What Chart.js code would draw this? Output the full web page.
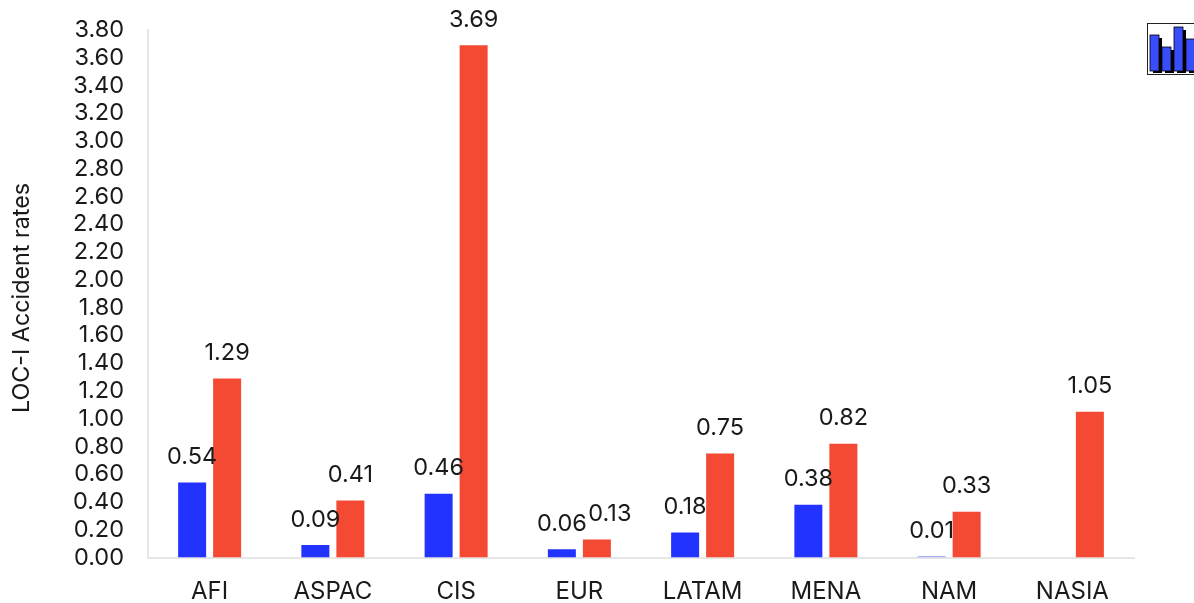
<!DOCTYPE html>
<html>
<head>
<meta charset="utf-8">
<title>LOC-I Accident rates</title>
<script src="https://cdn.jsdelivr.net/npm/chart.js@4"></script>
<style>
  html, body { margin: 0; padding: 0; background: #fff; overflow: hidden; }
  #wrap { position: relative; width: 1194px; height: 603px; }
  #icono { position: absolute; left: 1147px; top: 23px; }
</style>
</head>
<body>
<div id="wrap">
  <canvas id="grafico" width="1194" height="603"></canvas>
  <svg id="icono" width="47" height="53">
    <rect x="0.5" y="0.5" width="60" height="51" fill="#fff" stroke="#222"/>
    <rect x="6" y="15" width="9" height="35" fill="#000"/>
    <rect x="18" y="27" width="9" height="23" fill="#000"/>
    <rect x="30" y="7" width="9" height="43" fill="#000"/>
    <rect x="42" y="19" width="9" height="31" fill="#000"/>
    <rect x="3" y="12" width="9" height="36" fill="#3a4dfb" stroke="#000" stroke-width="0.8"/>
    <rect x="15" y="24" width="9" height="24" fill="#3a4dfb" stroke="#000" stroke-width="0.8"/>
    <rect x="27" y="4" width="9" height="44" fill="#3a4dfb" stroke="#000" stroke-width="0.8"/>
    <rect x="39" y="16" width="9" height="32" fill="#3a4dfb" stroke="#000" stroke-width="0.8"/>
  </svg>
</div>
<script>
const regiones = ['AFI', 'ASPAC', 'CIS', 'EUR', 'LATAM', 'MENA', 'NAM', 'NASIA'];
const serieAzul = [0.54, 0.09, 0.46, 0.06, 0.18, 0.38, 0.01, null];
const serieRoja = [1.29, 0.41, 3.69, 0.13, 0.75, 0.82, 0.33, 1.05];
const tituloEjeY = 'LOC-I Accident rates';

const FUENTE = 'Inter, "Noto Sans", sans-serif';
const TEXTO = '#1a1a1a';

// etiquetas de valor encima de cada barra y titulo del eje
const etiquetas = {
  id: 'etiquetas',
  afterDatasetsDraw(chart) {
    const ctx = chart.ctx;
    const azules = chart.getDatasetMeta(0).data;
    ctx.save();
    ctx.font = '23.5px ' + FUENTE;
    ctx.fillStyle = TEXTO;
    ctx.textAlign = 'center';
    ctx.textBaseline = 'middle';
    chart.data.datasets.forEach((ds, i) => {
      chart.getDatasetMeta(i).data.forEach((barra, j) => {
        if (ds.data[j] === null) return;
        // si chocan las dos etiquetas, la roja se corre a la derecha
        const choca = i === 1 && serieAzul[j] !== null && Math.abs(azules[j].y - barra.y) < 20;
        ctx.fillText(ds.data[j].toFixed(2), barra.x + (choca ? 13 : 0), barra.y - 25.5);
      });
    });
    ctx.font = '23.3px ' + FUENTE;
    ctx.translate(22, 298);
    ctx.rotate(-Math.PI / 2);
    ctx.fillText(tituloEjeY, 0, 0);
    ctx.restore();
  },
};

new Chart(document.getElementById('grafico'), {
  type: 'bar',
  data: {
    labels: regiones,
    datasets: [
      {
        label: 'Serie 1',
        data: serieAzul,
        // la barra casi nula se ve palida en el original
        backgroundColor: c => (c.raw !== null && c.raw < 0.02 ? '#aab2fb' : '#2233ff'),
      },
      { label: 'Serie 2', data: serieRoja, backgroundColor: '#f44a33' },
    ],
  },
  options: {
    responsive: false,
    animation: false,
    categoryPercentage: 0.568,
    barPercentage: 0.8,
    layout: { padding: { top: 30, right: 60, left: 10, bottom: 0 } },
    plugins: { legend: { display: false }, tooltip: { enabled: false } },
    scales: {
      x: {
        grid: { display: false, drawTicks: false },
        border: { color: '#e6e6e6', width: 2 },
        ticks: { color: TEXTO, font: { family: FUENTE, size: 24 }, padding: 20, maxRotation: 0 },
        afterFit(scale) { scale.height = 45.5; },
      },
      y: {
        min: 0,
        max: 3.8,
        grid: { display: false, drawTicks: false },
        border: { color: '#e6e6e6', width: 2 },
        ticks: {
          color: TEXTO,
          font: { family: FUENTE, size: 23.5 },
          stepSize: 0.2,
          padding: 24,
          autoSkip: false,
          callback: v => v.toFixed(2),
        },
        afterFit(scale) {
          scale.width = 138;
          scale.paddingTop = 0;
          scale.paddingBottom = 0;
        },
      },
    },
  },
  plugins: [etiquetas],
});
</script>
</body>
</html>
